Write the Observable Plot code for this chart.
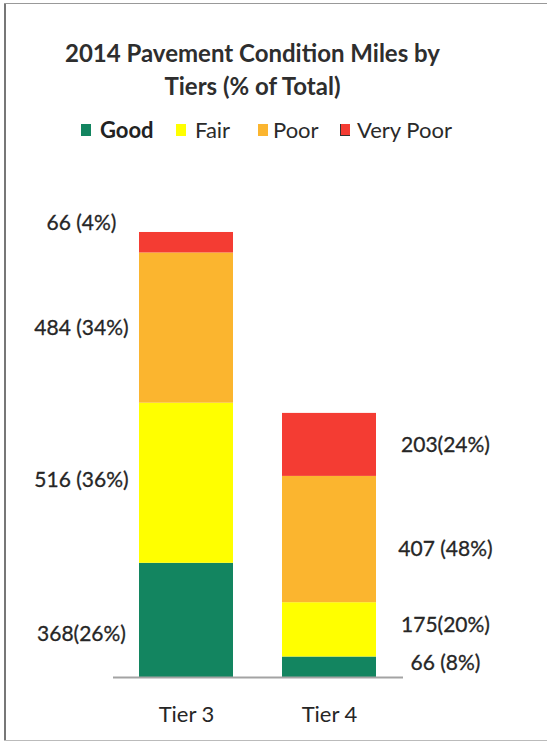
<!DOCTYPE html>
<html>
<head>
<meta charset="utf-8">
<script src="https://cdn.jsdelivr.net/npm/d3@7"></script>
<script src="https://cdn.jsdelivr.net/npm/@observablehq/plot@0.6"></script>
<style>
  html, body { margin: 0; padding: 0; background: #fff; }
  #wrap { position: relative; width: 547px; height: 742px; overflow: hidden; font-family: Lato, "Open Sans", sans-serif; color: #333; }
  #title { position: absolute; left: 0; top: 36px; width: 505px; text-align: center; font-weight: bold; font-size: 24px; line-height: 33px; color: #2e2e2e; }
  .leg { position: absolute; top: 118px; font-size: 22px; line-height: 24px; color: #2a2a2a; white-space: nowrap; }
  .sw { position: absolute; top: 6px; width: 10px; height: 12px; }
  #chart { position: absolute; left: 0; top: 150px; }
  .bl { position: absolute; left: 4px; top: 3px; width: 2px; height: 738px; background: #777; }
  .bt { position: absolute; left: 4px; top: 3px; width: 543px; height: 1px; background: #999; }
  .bb { position: absolute; left: 4px; top: 740px; width: 543px; height: 1px; background: #bbb; }
</style>
</head>
<body>
<div id="wrap">
  <div class="bl"></div><div class="bt"></div><div class="bb"></div>
  <div id="title">2014 Pavement Condition Miles by<br>Tiers (% of Total)</div>
  <div id="legend"></div>
  <div id="chart"></div>
</div>
<script>
// ---- data ----
const tiers = ["Tier 3", "Tier 4"];
const conditions = ["Good", "Fair", "Poor", "Very Poor"];
const colors = ["#138560", "#ffff00", "#fbb52f", "#f43c33"];
const tier3Miles = [368, 516, 484, 66];
const tier4Miles = [66, 175, 407, 203];
const tier3Labels = ["368(26%)", "516 (36%)", "484 (34%)", "66 (4%)"];
const tier4Labels = ["66 (8%)", "175(20%)", "407 (48%)", "203(24%)"];

// ---- build stacked rows ----
const rows = [];
[[tiers[0], tier3Miles, tier3Labels], [tiers[1], tier4Miles, tier4Labels]].forEach(([tier, miles, labels]) => {
  let acc = 0;
  conditions.forEach((c, i) => {
    rows.push({tier, condition: c, miles: miles[i], label: labels[i], y1: acc, y2: acc + miles[i]});
    acc += miles[i];
  });
});

// ---- legend (HTML) ----
const legendX = [81, 176, 258, 340];
const legend = document.getElementById("legend");
conditions.forEach((c, i) => {
  const item = document.createElement("div");
  item.className = "leg";
  item.style.left = legendX[i] + "px";
  if (c === "Good") { item.style.fontWeight = "bold"; item.style.color = "#222"; }
  const sw = document.createElement("div");
  sw.className = "sw";
  sw.style.background = colors[i];
  if (c === "Very Poor") { sw.style.boxSizing = "border-box"; sw.style.border = "1px solid #333"; sw.style.borderTop = "none"; sw.style.borderRight = "none"; }
  item.appendChild(sw);
  const t = document.createElement("span");
  t.textContent = c;
  t.style.marginLeft = (c === "Good" ? 19 : c === "Fair" ? 19 : c === "Poor" ? 15 : 17) + "px";
  item.appendChild(t);
  legend.appendChild(item);
});

// ---- label nudges (layout only) ----
const nudge = {"Tier 3|Very Poor": -19, "Tier 3|Good": 14, "Tier 3|Fair": -3, "Tier 4|Poor": 10, "Tier 4|Fair": -5, "Tier 4|Good": -4};

const labelMarks = rows.map(r => Plot.text([r], {
  x: "tier",
  y: d => (d.y1 + d.y2) / 2,
  text: "label",
  dx: r.tier === "Tier 3" ? -105 : 116,
  dy: nudge[r.tier + "|" + r.condition] || 0,
  fontSize: 21,
  fill: "#262626",
  stroke: "#262626",
  strokeWidth: 0.3,
  textAnchor: "middle"
}));

const chart = Plot.plot({
  width: 547,
  height: 592,
  marginLeft: 113,
  marginRight: 144,
  marginTop: 0,
  marginBottom: 65,
  style: {fontFamily: "Lato, 'Open Sans', sans-serif", background: "transparent", overflow: "visible"},
  x: {domain: tiers, range: [113, 403], paddingInner: 0.34, paddingOuter: 0.18, label: null},
  y: {domain: [0, 1500], range: [527, 61.5], axis: null},
  color: {domain: conditions, range: colors},
  marks: [
    Plot.barY(rows, {x: "tier", y1: "y1", y2: "y2", fill: "condition"}),
    Plot.ruleY([0], {stroke: "#a3a3a3", strokeWidth: 2}),
    Plot.axisX({tickSize: 0, tickPadding: 29, fontSize: 22, color: "#262626", label: null}),
    ...labelMarks
  ]
});
document.getElementById("chart").appendChild(chart);
</script>
</body>
</html>
